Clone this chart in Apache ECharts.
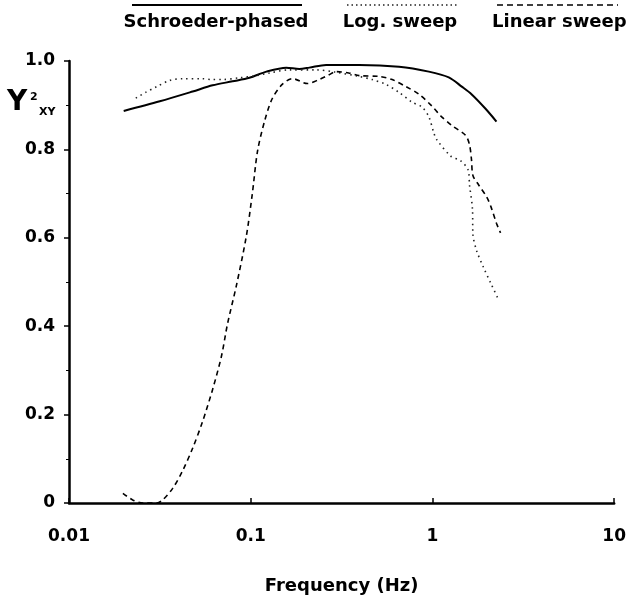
<!DOCTYPE html>
<html>
<head>
<meta charset="utf-8">
<script src="https://cdn.jsdelivr.net/npm/echarts@6/dist/echarts.min.js"></script>
<style>
html,body{margin:0;padding:0;background:#fff;}
#chart{width:629px;height:600px;}
</style>
</head>
<body>
<div id="chart"></div>
<script>
// ---- data ----
const seriesNames = ['Schroeder-phased', 'Log. sweep', 'Linear sweep'];

const schroederFreq = [0.02, 0.0316, 0.0479, 0.0617, 0.0794, 0.0984, 0.122, 0.157, 0.185, 0.21, 0.26, 0.395, 0.655, 0.955, 1.23, 1.45, 1.64, 1.96, 2.25];
const schroederVal  = [0.887, 0.909, 0.931, 0.945, 0.954, 0.962, 0.976, 0.985, 0.982, 0.985, 0.991, 0.991, 0.987, 0.976, 0.963, 0.942, 0.925, 0.892, 0.863];

const logFreq = [0.0233, 0.0264, 0.0304, 0.0358, 0.0422, 0.0543, 0.061, 0.07, 0.0867, 0.107, 0.127, 0.163, 0.229, 0.29, 0.395, 0.466, 0.555, 0.655, 0.771, 0.875, 0.955, 1.02, 1.06, 1.26, 1.43, 1.57, 1.6, 1.66, 1.67, 1.75, 1.91, 2.09, 2.31];
const logVal  = [0.916, 0.929, 0.942, 0.956, 0.960, 0.960, 0.958, 0.958, 0.962, 0.967, 0.973, 0.980, 0.980, 0.975, 0.965, 0.958, 0.947, 0.929, 0.907, 0.896, 0.874, 0.836, 0.821, 0.785, 0.774, 0.754, 0.719, 0.666, 0.608, 0.571, 0.533, 0.498, 0.460];

const linFreq = [0.0198, 0.0224, 0.0255, 0.0304, 0.0328, 0.0372, 0.0422, 0.0479, 0.0543, 0.0617, 0.069, 0.0745, 0.0835, 0.0946, 0.102, 0.109, 0.119, 0.131, 0.149, 0.17, 0.205, 0.238, 0.27, 0.295, 0.346, 0.395, 0.508, 0.6, 0.715, 0.842, 0.993, 1.11, 1.28, 1.52, 1.6, 1.64, 1.67, 1.8, 1.99, 2.1, 2.25, 2.37];
const linVal  = [0.022, 0.007, 0.0, 0.0, 0.007, 0.033, 0.073, 0.124, 0.184, 0.257, 0.332, 0.405, 0.493, 0.604, 0.699, 0.796, 0.863, 0.914, 0.947, 0.960, 0.949, 0.958, 0.969, 0.976, 0.973, 0.967, 0.965, 0.958, 0.942, 0.925, 0.898, 0.876, 0.854, 0.832, 0.810, 0.777, 0.741, 0.719, 0.692, 0.670, 0.633, 0.611];

const xTickLabels = ['0.01', '0.1', '1', '10'];
const yTickLabels = ['0', '0.2', '0.4', '0.6', '0.8', '1.0'];

const xName = 'Frequency (Hz)';

// ---- chart ----
const pair = (xs, ys) => xs.map((x, i) => [x, ys[i]]);
const FONT = 'DejaVu Sans';
const chart = echarts.init(document.getElementById('chart'), null, {renderer: 'canvas'});

const legendY = 5;
const option = {
  backgroundColor: '#ffffff',
  animation: false,
  grid: {left: 69, right: 14, top: 61, bottom: 87, containLabel: false},
  xAxis: {
    type: 'log', logBase: 10, min: 0.01, max: 10,
    name: xName, nameLocation: 'middle', nameGap: 74,
    nameTextStyle: {fontFamily: FONT, fontWeight: 'bold', fontSize: 18, color: '#000'},
    axisLine: {lineStyle: {color: '#000', width: 2.5}},
    axisTick: {show: true, inside: true, length: 5, lineStyle: {color: '#000', width: 1.5}},
    minorTick: {show: false},
    splitLine: {show: false},
    axisLabel: {
      margin: 25, fontFamily: FONT, fontWeight: 'bold', fontSize: 17, color: '#000',
      formatter: v => {
        const idx = Math.round(Math.log10(v)) + 2;
        return xTickLabels[idx] !== undefined ? xTickLabels[idx] : '';
      }
    }
  },
  yAxis: {
    type: 'value', min: 0, max: 1, interval: 0.2,
    axisLine: {show: true, lineStyle: {color: '#000', width: 2.5}},
    axisTick: {show: true, inside: false, length: 5, lineStyle: {color: '#000', width: 1.5}},
    minorTick: {show: true, splitNumber: 2, length: 3, lineStyle: {color: '#000', width: 1}},
    splitLine: {show: false},
    axisLabel: {
      margin: 14, fontFamily: FONT, fontWeight: 'bold', fontSize: 17, color: '#000',
      formatter: v => yTickLabels[Math.round(v / 0.2)]
    }
  },
  series: [
    {
      name: seriesNames[0], type: 'line', data: pair(schroederFreq, schroederVal),
      showSymbol: false, smooth: 0.3, lineStyle: {color: '#000', width: 2}
    },
    {
      name: seriesNames[1], type: 'line', data: pair(logFreq, logVal),
      showSymbol: false, smooth: 0.3, lineStyle: {color: '#222', width: 1.6, type: [1.5, 4]}
    },
    {
      name: seriesNames[2], type: 'line', data: pair(linFreq, linVal),
      showSymbol: false, smooth: 0.3, lineStyle: {color: '#000', width: 1.6, type: [5, 4]}
    }
  ],
  graphic: [
    // legend samples (lines above text)
    {type: 'line', shape: {x1: 132, y1: legendY, x2: 302, y2: legendY}, style: {stroke: '#000', lineWidth: 2}},
    {type: 'text', x: 216, y: 22, style: {text: seriesNames[0], fill: '#000', font: 'bold 18px "DejaVu Sans"', textAlign: 'center', textVerticalAlign: 'middle'}},
    {type: 'line', shape: {x1: 347, y1: legendY, x2: 458, y2: legendY}, style: {stroke: '#222', lineWidth: 1.6, lineDash: [1.5, 3]}},
    {type: 'text', x: 400, y: 22, style: {text: seriesNames[1], fill: '#000', font: 'bold 18px "DejaVu Sans"', textAlign: 'center', textVerticalAlign: 'middle'}},
    {type: 'line', shape: {x1: 497, y1: legendY, x2: 618, y2: legendY}, style: {stroke: '#000', lineWidth: 1.6, lineDash: [6, 4]}},
    {type: 'text', x: 492, y: 22, style: {text: seriesNames[2], fill: '#000', font: 'bold 18px "DejaVu Sans"', textAlign: 'left', textVerticalAlign: 'middle'}},
    // y-axis title  Y²XY
    {type: 'text', x: 7, y: 103, style: {text: 'Y', fill: '#000', font: 'bold 28px "DejaVu Sans"', textAlign: 'left', textVerticalAlign: 'middle'}},
    {type: 'text', x: 30, y: 97, style: {text: '2', fill: '#000', font: 'bold 11px "DejaVu Sans"', textAlign: 'left', textVerticalAlign: 'middle'}},
    {type: 'text', x: 39, y: 112, style: {text: 'XY', fill: '#000', font: 'bold 11px "DejaVu Sans"', textAlign: 'left', textVerticalAlign: 'middle'}}
  ]
};
chart.setOption(option);
</script>
</body>
</html>
